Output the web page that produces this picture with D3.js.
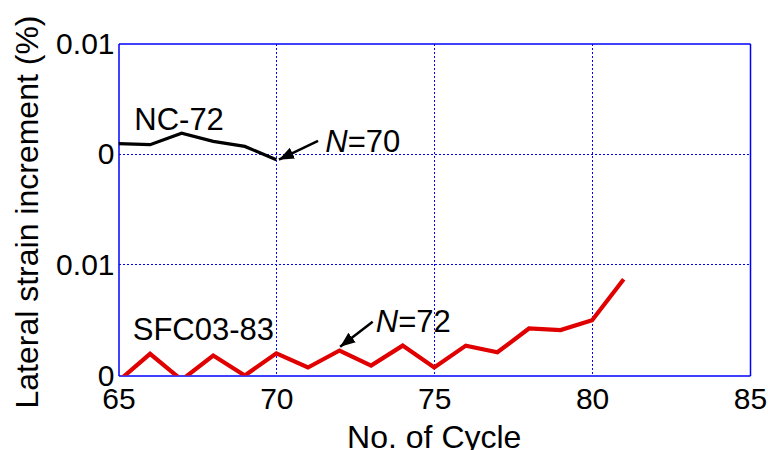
<!DOCTYPE html>
<html><head><meta charset="utf-8">
<script src="https://cdn.jsdelivr.net/npm/d3@7"></script>
<style>body{margin:0;background:#fff}svg{display:block}text{font-family:"Liberation Sans",Arial,sans-serif}</style>
</head><body><svg id="c" width="768" height="450"></svg>
<script>
// data
const cycles = [65,66,67,68,69,70,71,72,73,74,75,76,77,78,79,80,81];
const ncCycles = [65,66,67,68,69,70];
const ncValues = [0.00095,0.00086,0.0019,0.00116,0.0007,-0.0005];   // upper panel, offset 0.02
const sfcValues = [-0.0005,0.00196,-0.0004,0.0018,0.0,0.002,0.00072,0.00226,0.0009,0.0027,0.00072,0.0027,0.0021,0.00425,0.0041,0.005,0.0087];
const xTicks = [65,70,75,80,85];
const yTicks = [0,0.01,0.02,0.03];
const yTickLabels = ["0","0.01","0","0.01"];
const ncOffset = 0.02;
const labels = [
  {t:"NC-72", x:65.5, y:0.0222},
  {t:"SFC03-83", x:65.45, y:0.0032}
];
const nLabels = [
  {n:"N", rest:"=70", x:71.55, y:0.0202},
  {n:"N", rest:"=72", x:73.15, y:0.0039}
];
const arrows = [
  {x1:71.32, y1:0.0212, x2:70.08, y2:0.0195},
  {x1:73.05, y1:0.00485, x2:72.02, y2:0.0026}
];

const svg = d3.select("#c");
const L=118.5, R=750, T=43.5, B=375.5;
const x = d3.scaleLinear().domain([65,85]).range([L,R]);
const y = d3.scaleLinear().domain([0,0.03]).range([B,T]);
const blue="#0000ff";

// grid
const g = svg.append("g").attr("shape-rendering","crispEdges");
g.selectAll(".vg").data(xTicks.slice(1,-1)).join("line")
  .attr("x1",d=>x(d)).attr("x2",d=>x(d)).attr("y1",T).attr("y2",B)
  .attr("stroke",blue).attr("stroke-width",1).attr("stroke-dasharray","2,2");
g.selectAll(".hg").data(yTicks.slice(1,-1)).join("line")
  .attr("x1",L).attr("x2",R).attr("y1",d=>y(d)).attr("y2",d=>y(d))
  .attr("stroke",blue).attr("stroke-width",1).attr("stroke-dasharray","2,2");

// axes
const xAxis = svg.append("g").attr("transform",`translate(0,${B})`)
  .call(d3.axisBottom(x).tickValues(xTicks).tickSize(0).tickPadding(12));
const yAxis = svg.append("g").attr("transform",`translate(${L},0)`)
  .call(d3.axisLeft(y).tickValues(yTicks).tickFormat((d,i)=>yTickLabels[i]).tickSize(0).tickPadding(4));
[xAxis,yAxis].forEach(a=>{
  a.selectAll("path,line").attr("stroke",blue).attr("stroke-width",1.5);
  a.selectAll("text").attr("fill","#000").style("font-size","30px");
});
xAxis.selectAll("text").attr("dy","0.7em");
// top and right frame
const x2 = svg.append("g").attr("transform",`translate(0,${T})`)
  .call(d3.axisTop(x).tickValues(xTicks).tickSize(0).tickFormat(""));
const y2 = svg.append("g").attr("transform",`translate(${R},0)`)
  .call(d3.axisRight(y).tickValues(yTicks).tickSize(0).tickFormat(""));
[x2,y2].forEach(a=>a.selectAll("path,line").attr("stroke",blue).attr("stroke-width",1.5));

// clip
svg.append("clipPath").attr("id","clip").append("rect")
  .attr("x",L).attr("y",T).attr("width",R-L).attr("height",B-T);

const line = d3.line().x(d=>x(d[0])).y(d=>y(d[1]));
svg.append("path").datum(ncCycles.map((c,i)=>[c,ncValues[i]+ncOffset]))
  .attr("d",line).attr("fill","none").attr("stroke","#000").attr("stroke-width",3.2)
  .attr("clip-path","url(#clip)");
svg.append("path").datum(cycles.map((c,i)=>[c,sfcValues[i]]))
  .attr("d",line).attr("fill","none").attr("stroke","#e00000").attr("stroke-width",4.2)
  .attr("clip-path","url(#clip)");

// annotations
svg.selectAll(".lab").data(labels).join("text")
  .attr("x",d=>x(d.x)).attr("y",d=>y(d.y)).text(d=>d.t)
  .style("font-size","31px").attr("fill","#000");
const nt = svg.selectAll(".nlab").data(nLabels).join("text")
  .attr("x",d=>x(d.x)).attr("y",d=>y(d.y)).style("font-size","31px").attr("fill","#000");
nt.append("tspan").attr("font-style","italic").text(d=>d.n);
nt.append("tspan").text(d=>d.rest);

svg.append("defs").append("marker").attr("id","ah").attr("viewBox","0 0 10 10")
  .attr("refX",10).attr("refY",5).attr("markerWidth",6).attr("markerHeight",6)
  .attr("orient","auto").attr("markerUnits","strokeWidth")
  .append("path").attr("d","M0,1 L10,5 L0,9 Z").attr("fill","#000");
svg.selectAll(".arr").data(arrows).join("line")
  .attr("x1",d=>x(d.x1)).attr("y1",d=>y(d.y1)).attr("x2",d=>x(d.x2)).attr("y2",d=>y(d.y2))
  .attr("stroke","#000").attr("stroke-width",2.5).attr("marker-end","url(#ah)");

// axis titles
svg.append("text").attr("x",x(75)).attr("y",448).attr("text-anchor","middle")
  .style("font-size","32px").text("No. of Cycle");
svg.append("text").attr("transform","translate(38,212) rotate(-90)").attr("text-anchor","middle")
  .style("font-size","32px").text("Lateral strain increment (%)");
</script></body></html>
